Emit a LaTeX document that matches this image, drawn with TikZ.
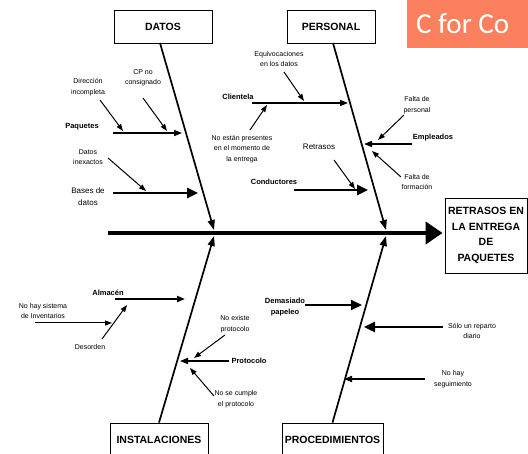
\documentclass[tikz,border=0pt]{standalone}
\usepackage{fontspec}
\setmainfont{Liberation Sans}
\newfontfamily\carlito{Carlito}
\usepackage{tikz}
\usetikzlibrary{arrows.meta,calc,positioning}
\definecolor{coral}{RGB}{250,128,94}

\tikzset{
	caja/.style={draw, line width=0.8pt, inner sep=0pt, font=\fontsize{10.5}{15.5}\selectfont\bfseries, align=center},
	txt/.style={align=center, inner sep=0pt, font=\fontsize{7}{10.5}\selectfont},
	etq/.style={align=center, inner sep=0pt, font=\fontsize{7.5}{11.5}\selectfont\bfseries},
	etqn/.style={align=center, inner sep=0pt, font=\fontsize{8}{12}\selectfont},
	hueso/.style={line width=1.7pt, -{Triangle[length=10pt,width=7pt]}},
	fina/.style={line width=1pt, -{Triangle[length=7pt,width=5pt]}},
	rama/.style={line width=1.5pt, -{Triangle[length=8pt,width=6pt]}},
	gruesa/.style={line width=2.5pt, -{Triangle[length=11pt,width=10pt]}}
}

\begin{document}
\begin{tikzpicture}[x=1pt,y=-1pt]
	\clip (0,0) rectangle (528,454);
	\useasboundingbox (0,0) rectangle (528,454);
	\fill[white] (0,0) rectangle (528,454);
	
	% recuadro naranja
	\fill[coral] (407,-2) rectangle (530,48);
	\node[anchor=west, text=white, inner sep=0pt, font=\carlito\fontsize{29}{30}\selectfont] (marca) at (416,24) {C for Co};
	
	% cajas
	\node[caja, minimum width=98pt, minimum height=33pt] (datos) at (163,26.5) {DATOS};
	\node[caja, minimum width=88pt, minimum height=33pt] (personal) at (331,26.5) {PERSONAL};
	\node[caja, minimum width=98pt, minimum height=34pt] (instal) at (159,440) {INSTALACIONES};
	\node[caja, minimum width=101pt, minimum height=34pt] (proced) at (332.5,440) {PROCEDIMIENTOS};
	\node[caja, minimum width=82pt, minimum height=75pt] (efecto) at (486,235.5) {RETRASOS EN\\LA ENTREGA\\DE\\PAQUETES};
	
	% espina
	\coordinate (cola) at (108,233);
	\draw[line width=4pt, -{Triangle[length=17pt,width=22pt]}, shorten >=2pt] (cola) -- (efecto.west |- cola);
	
	\coordinate (jI1) at (214,230); \coordinate (jI2) at (214,236);
	\coordinate (jD1) at (386,230); \coordinate (jD2) at (386,236);
	\draw[hueso] (160,43) -- (jI1);
	\draw[hueso] (instal.north) -- (jI2);
	\draw[hueso] (333,43) -- (jD1);
	\draw[hueso] (proced.north) -- (jD2);
	
	% DATOS
	\node[txt] (dir) at (88,87) {Dirección\\incompleta};
	\node[txt] (cp) at (143,78) {CP no\\consignado};
	\node[etq] (paq) at (82,127) {Paquetes};
	\node[txt] (inex) at (88,157) {Datos\\inexactos};
	\node[etqn] (bases) at (88,197) {Bases de\\datos};
	\path (100,100) coordinate (dir1) (123,131) coordinate (dir2)
		(143,98) coordinate (cp1) (167,131) coordinate (cp2)
		(113,133) coordinate (paq1) (182,133) coordinate (paq2)
		(108,158) coordinate (inex1) (146,191) coordinate (inex2)
		(113,193) coordinate (bases1) (198,193) coordinate (bases2);
	\draw[fina] (dir1) -- (dir2);
	\draw[fina] (cp1) -- (cp2);
	\draw[rama] (paq1) -- (paq2);
	\draw[fina] (inex1) -- (inex2);
	\draw[gruesa] (bases1) -- (bases2);
	
	% PERSONAL
	\node[txt] (equiv) at (279,59) {Equivocaciones\\en los datos};
	\node[etq] (cli) at (238,97) {Clientela};
	\node[txt] (noest) at (242,149) {No están presentes\\en el momento de\\la entrega};
	\node[etqn] (retr) at (319,147) {Retrasos};
	\node[etq] (cond) at (274,182) {Conductores};
	\node[txt] (falper) at (417,105) {Falta de\\personal};
	\node[etq] (emp) at (433,138) {Empleados};
	\node[txt] (falfor) at (417,182) {Falta de\\formación};
	\path (284,72) coordinate (equiv1) (304,101) coordinate (equiv2)
		(252,103) coordinate (cli1) (348,103) coordinate (cli2)
		(250,130) coordinate (noest1) (267,105) coordinate (noest2)
		(334,160) coordinate (retr1) (355,189) coordinate (retr2)
		(294,190) coordinate (cond1) (368,190) coordinate (cond2)
		(412,144) coordinate (emp1) (364,144) coordinate (emp2)
		(404,115) coordinate (falper1) (378,140) coordinate (falper2)
		(401,177) coordinate (falfor1) (372,151) coordinate (falfor2);
	\draw[fina] (equiv1) -- (equiv2);
	\draw[rama] (cli1) -- (cli2);
	\draw[fina] (noest1) -- (noest2);
	\draw[fina] (retr1) -- (retr2);
	\draw[gruesa] (cond1) -- (cond2);
	\draw[rama] (emp1) -- (emp2);
	\draw[fina] (falper1) -- (falper2);
	\draw[fina] (falfor1) -- (falfor2);
	
	% INSTALACIONES
	\node[etq] (alm) at (108,293) {Almacén};
	\node[txt] (nohay) at (43,311) {No hay sistema\\de Inventarios};
	\node[txt] (desor) at (90,347) {Desorden};
	\node[txt] (noexi) at (235,324) {No existe\\protocolo};
	\node[etq] (proto) at (249,361) {Protocolo};
	\node[txt] (nocum) at (236,399) {No se cumple\\el protocolo};
	\path (115,299) coordinate (alm1) (185,299) coordinate (alm2)
		(35,323) coordinate (nohay1) (112,323) coordinate (nohay2)
		(102,339) coordinate (desor1) (127,305) coordinate (desor2)
		(225,335) coordinate (noexi1) (194,358) coordinate (noexi2)
		(229,361) coordinate (proto1) (180,361) coordinate (proto2)
		(214,396) coordinate (nocum1) (190,368) coordinate (nocum2);
	\draw[rama, line width=2pt] (alm1) -- (alm2);
	\draw[fina] (nohay1) -- (nohay2);
	\draw[fina] (desor1) -- (desor2);
	\draw[fina] (noexi1) -- (noexi2);
	\draw[rama] (proto1) -- (proto2);
	\draw[fina] (nocum1) -- (nocum2);
	
	% PROCEDIMIENTOS
	\node[etq] (dema) at (285,307) {Demasiado\\papeleo};
	\node[txt] (solo) at (472,331) {Sólo un reparto\\diario};
	\node[txt] (noseg) at (453,379) {No hay\\seguimiento};
	\path (305,305) coordinate (dema1) (362,305) coordinate (dema2)
		(443,327) coordinate (solo1) (364,327) coordinate (solo2)
		(425,379) coordinate (noseg1) (344,379) coordinate (noseg2);
	\draw[gruesa, line width=2pt] (dema1) -- (dema2);
	\draw[gruesa] (solo1) -- (solo2);
	\draw[rama, line width=1.8pt] (noseg1) -- (noseg2);
\end{tikzpicture}
\end{document}
